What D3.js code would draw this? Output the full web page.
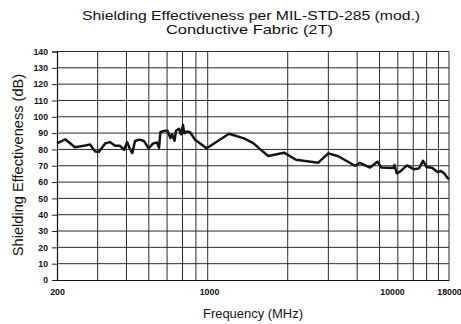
<!DOCTYPE html>
<html>
<head>
<meta charset="utf-8">
<script src="https://cdn.jsdelivr.net/npm/d3@7"></script>
<style>
  html, body { margin: 0; padding: 0; background: #fff; }
  svg { display: block; }
  text { font-family: "Liberation Sans", Arial, sans-serif; fill: #111; }
</style>
</head>
<body>
<svg id="chart" width="461" height="324"></svg>
<script>
// ---- data ----
const freqMHz = [200, 218, 242, 270, 284, 299, 312, 333, 350, 370, 390, 407, 420, 433, 444, 457, 479, 502, 527, 554, 577, 589, 598, 628, 644, 664, 676, 694, 705, 728, 743, 759, 770, 790, 818, 862, 976, 1286, 1553, 1746, 1900, 2109, 2570, 2988, 3957, 4486, 5088, 6279, 6685, 7583, 8334, 8738, 10134, 10261, 10497, 10860, 11670, 12540, 13210, 13770, 14300, 15100, 15990, 16570, 17150, 17720, 18000];
const seDB = [83.7, 86.2, 81.3, 82.4, 83.0, 78.8, 78.6, 83.7, 84.5, 82.2, 82.2, 79.8, 84.5, 80.3, 77.8, 85.2, 86.0, 85.2, 80.7, 83.7, 84.2, 81.0, 90.7, 91.4, 91.5, 87.0, 89.3, 85.3, 91.4, 92.7, 89.3, 95.0, 89.9, 91.0, 90.5, 86.0, 80.7, 89.6, 86.8, 83.9, 80.2, 76.0, 78.0, 73.7, 71.9, 77.6, 75.8, 70.0, 71.8, 68.9, 72.5, 69.0, 68.6, 70.5, 65.4, 66.4, 70.2, 67.8, 68.4, 73.0, 69.2, 68.8, 66.2, 66.8, 65.2, 62.5, 61.8];

const xTickLabels = [200, 1000, 10000, 18000];
const gridFreqs = [300, 400, 500, 600, 700, 800, 900, 2000, 3000, 4000, 5000, 6000, 7000, 8000, 9000, 10000];
const yTicks = [0, 10, 20, 30, 40, 50, 60, 70, 80, 90, 100, 110, 120, 130, 140];

const titleLines = ["Shielding Effectiveness per MIL-STD-285 (mod.)", "Conductive Fabric (2T)"];
const xTitle = "Frequency (MHz)";
const yTitle = "Shielding Effectiveness (dB)";

// ---- layout ----
const plotL = 57, plotR = 449, plotT = 51.5, plotB = 280;
const svg = d3.select("#chart");

// label scale (frequency axis as labelled)
const x = d3.scaleLog()
  .domain([200, 1000, 10000, 18000])
  .range([plotL, 209, 392, plotR]);
// grid scale (vertical gridlines as drawn)
const xGrid = d3.scaleLog().domain([200, 10000]).range([plotL, plotR]);
const y = d3.scaleLinear().domain([0, 140]).range([plotB, plotT]);

// horizontal gridlines
svg.append("g").selectAll("line").data(yTicks.filter(d => d > 0)).join("line")
  .attr("x1", plotL).attr("x2", plotR)
  .attr("y1", d => y(d)).attr("y2", d => y(d))
  .attr("stroke", "#2a2a2a").attr("stroke-width", 1);

// vertical gridlines
svg.append("g").selectAll("line").data(gridFreqs).join("line")
  .attr("x1", d => xGrid(d)).attr("x2", d => xGrid(d))
  .attr("y1", plotT).attr("y2", plotB)
  .attr("stroke", "#2a2a2a").attr("stroke-width", 1);

// left axis
const yAxis = d3.axisLeft(y).tickValues(yTicks).tickSize(5).tickPadding(4).tickFormat(d3.format("d"));
const gy = svg.append("g").attr("transform", `translate(${plotL},0)`).call(yAxis);
gy.select(".domain").attr("stroke", "#111").attr("stroke-width", 1.2);
gy.selectAll(".tick line").attr("stroke", "#222");
gy.selectAll(".tick text")
  .style("font-family", "'Liberation Sans', Arial, sans-serif")
  .style("font-size", "8.7px").style("font-weight", "bold").attr("fill", "#111");

// bottom axis
const xAxis = d3.axisBottom(x).tickValues(xTickLabels).tickSize(0).tickPadding(9).tickFormat(d3.format("d"));
const gx = svg.append("g").attr("transform", `translate(0,${plotB})`).call(xAxis);
gx.select(".domain").attr("stroke", "#111").attr("stroke-width", 1.2);
gx.selectAll(".tick text")
  .style("font-family", "'Liberation Sans', Arial, sans-serif")
  .style("font-size", "8.8px").style("font-weight", "bold").attr("fill", "#111");

// data line
const pts = freqMHz.map((f, i) => [f, seDB[i]]);
svg.append("path")
  .datum(pts)
  .attr("fill", "none")
  .attr("stroke", "#151515")
  .attr("stroke-width", 2.5)
  .attr("stroke-linejoin", "round")
  .attr("d", d3.line().x(d => x(d[0])).y(d => y(d[1])));

// titles (slightly wide lettering, as in the reference)
svg.append("text").attr("x", 251).attr("y", 19.6).attr("text-anchor", "middle")
  .attr("textLength", 338).attr("lengthAdjust", "spacingAndGlyphs")
  .style("font-size", "13px").text(titleLines[0]);
svg.append("text").attr("x", 249.5).attr("y", 34).attr("text-anchor", "middle")
  .attr("textLength", 167).attr("lengthAdjust", "spacingAndGlyphs")
  .style("font-size", "13px").text(titleLines[1]);

svg.append("text").attr("x", 253).attr("y", 317.5).attr("text-anchor", "middle")
  .attr("textLength", 100).attr("lengthAdjust", "spacingAndGlyphs")
  .style("font-size", "12px").text(xTitle);

svg.append("text").attr("transform", "translate(23,165) rotate(-90)").attr("text-anchor", "middle")
  .style("font-size", "14.6px").text(yTitle);
</script>
</body>
</html>
